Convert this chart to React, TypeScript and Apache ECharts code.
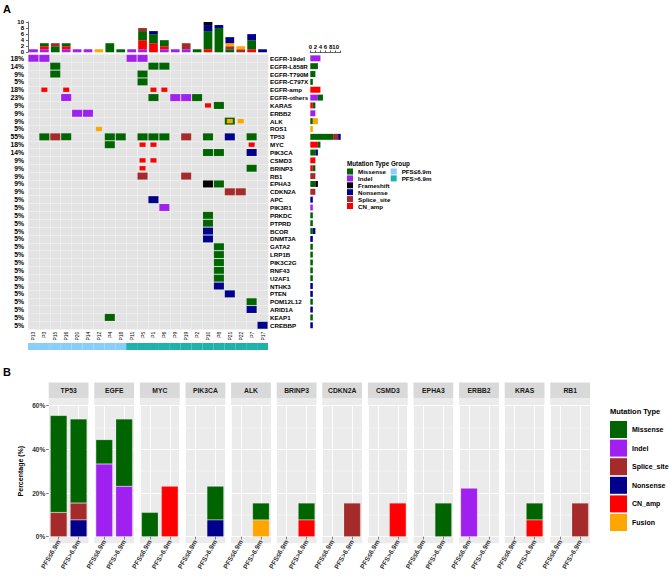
import React, { useEffect, useRef } from 'react';
import * as echarts from 'echarts';

const FONT = '"Liberation Sans", Arial, sans-serif';

// ---------- Panel A data ----------
const samples = ['P13', 'P3', 'P15', 'P16', 'P20', 'P14', 'P12', 'P4', 'P18', 'P11', 'P5', 'P1', 'P6', 'P9', 'P19', 'P2', 'P10', 'P8', 'P21', 'P22', 'P7', 'P17'];
const sampleGroups = ['PFS≤6.9m', 'PFS≤6.9m', 'PFS≤6.9m', 'PFS≤6.9m', 'PFS≤6.9m', 'PFS≤6.9m', 'PFS≤6.9m', 'PFS≤6.9m', 'PFS≤6.9m',
  'PFS>6.9m', 'PFS>6.9m', 'PFS>6.9m', 'PFS>6.9m', 'PFS>6.9m', 'PFS>6.9m', 'PFS>6.9m', 'PFS>6.9m', 'PFS>6.9m', 'PFS>6.9m', 'PFS>6.9m', 'PFS>6.9m', 'PFS>6.9m'];
const groupNames = ['PFS≤6.9m', 'PFS>6.9m'];
const groupColors = ['#87cefa', '#20b2aa'];

const genes = ['EGFR-19del', 'EGFR-L858R', 'EGFR-T790M', 'EGFR-C797X', 'EGFR-amp', 'EGFR-others', 'KARAS', 'ERBB2', 'ALK', 'ROS1', 'TP53', 'MYC', 'PIK3CA', 'CSMD3', 'BRINP3', 'RB1', 'EPHA3', 'CDKN2A', 'APC', 'PIK3R1', 'PRKDC', 'PTPRD', 'BCOR', 'DNMT3A', 'GATA2', 'LRP1B', 'PIK3C2G', 'RNF43', 'U2AF1', 'NTHK3', 'PTEN', 'POM12L12', 'ARID1A', 'KEAP1', 'CREBBP'];
const genePct = ['18%', '14%', '9%', '5%', '18%', '23%', '9%', '9%', '9%', '5%', '55%', '18%', '14%', '9%', '9%', '9%', '9%', '9%', '5%', '5%', '5%', '5%', '5%', '5%', '5%', '5%', '5%', '5%', '5%', '5%', '5%', '5%', '5%', '5%', '5%'];

const mutTypes = ['Missense', 'Indel', 'Frameshift', 'Nonsense', 'Splice_site', 'CN_amp', 'Fusion'];
const mutColors: Record<string, string> = {
  Missense: '#006400', Indel: '#a020f0', Frameshift: '#000000', Nonsense: '#00008b',
  Splice_site: '#a52a2a', CN_amp: '#ff0000', Fusion: '#ffa500',
};

// oncoprint cells: [sample, gene, type]
const cells: [string, string, string][] = [
  ['P13', 'EGFR-19del', 'Indel'], ['P3', 'EGFR-19del', 'Indel'], ['P11', 'EGFR-19del', 'Indel'], ['P5', 'EGFR-19del', 'Indel'],
  ['P15', 'EGFR-L858R', 'Missense'], ['P1', 'EGFR-L858R', 'Missense'], ['P6', 'EGFR-L858R', 'Missense'],
  ['P15', 'EGFR-T790M', 'Missense'], ['P5', 'EGFR-T790M', 'Missense'],
  ['P5', 'EGFR-C797X', 'Missense'],
  ['P3', 'EGFR-amp', 'CN_amp'], ['P16', 'EGFR-amp', 'CN_amp'], ['P1', 'EGFR-amp', 'CN_amp'], ['P6', 'EGFR-amp', 'CN_amp'],
  ['P16', 'EGFR-others', 'Indel'], ['P1', 'EGFR-others', 'Missense'], ['P9', 'EGFR-others', 'Indel'], ['P19', 'EGFR-others', 'Indel'], ['P2', 'EGFR-others', 'Missense'],
  ['P10', 'KARAS', 'CN_amp'], ['P8', 'KARAS', 'Missense'],
  ['P20', 'ERBB2', 'Indel'], ['P14', 'ERBB2', 'Indel'],
  ['P21', 'ALK', 'Missense'], ['P21', 'ALK', 'Fusion'], ['P22', 'ALK', 'Fusion'],
  ['P12', 'ROS1', 'Fusion'],
  ['P3', 'TP53', 'Missense'], ['P15', 'TP53', 'Splice_site'], ['P16', 'TP53', 'Missense'], ['P4', 'TP53', 'Missense'], ['P18', 'TP53', 'Missense'],
  ['P5', 'TP53', 'Missense'], ['P1', 'TP53', 'Missense'], ['P6', 'TP53', 'Missense'], ['P19', 'TP53', 'Splice_site'], ['P10', 'TP53', 'Missense'],
  ['P21', 'TP53', 'Nonsense'], ['P7', 'TP53', 'Missense'],
  ['P4', 'MYC', 'Missense'], ['P5', 'MYC', 'CN_amp'], ['P1', 'MYC', 'CN_amp'], ['P7', 'MYC', 'CN_amp'],
  ['P10', 'PIK3CA', 'Missense'], ['P8', 'PIK3CA', 'Missense'], ['P7', 'PIK3CA', 'Nonsense'],
  ['P5', 'CSMD3', 'CN_amp'], ['P1', 'CSMD3', 'CN_amp'],
  ['P5', 'BRINP3', 'CN_amp'], ['P7', 'BRINP3', 'Missense'],
  ['P5', 'RB1', 'Splice_site'], ['P19', 'RB1', 'Splice_site'],
  ['P10', 'EPHA3', 'Frameshift'], ['P8', 'EPHA3', 'Missense'],
  ['P21', 'CDKN2A', 'Splice_site'], ['P22', 'CDKN2A', 'Splice_site'],
  ['P1', 'APC', 'Nonsense'],
  ['P6', 'PIK3R1', 'Indel'],
  ['P10', 'PRKDC', 'Missense'],
  ['P10', 'PTPRD', 'Missense'],
  ['P10', 'BCOR', 'Nonsense'],
  ['P10', 'DNMT3A', 'Nonsense'],
  ['P8', 'GATA2', 'Missense'], ['P8', 'LRP1B', 'Missense'], ['P8', 'PIK3C2G', 'Missense'], ['P8', 'RNF43', 'Missense'], ['P8', 'U2AF1', 'Missense'],
  ['P8', 'NTHK3', 'Nonsense'],
  ['P21', 'PTEN', 'Nonsense'],
  ['P7', 'POM12L12', 'Missense'],
  ['P7', 'ARID1A', 'Nonsense'],
  ['P4', 'KEAP1', 'Missense'],
  ['P17', 'CREBBP', 'Nonsense'],
];

// top bar: mutation counts per sample
const topIndel = [1, 1, 0, 1, 1, 1, 0, 0, 0, 1, 1, 0, 1, 1, 1, 0, 0, 0, 0, 0, 0, 0];
const topCNamp = [0, 1, 0, 1, 0, 0, 0, 0, 0, 0, 3, 3, 1, 0, 0, 0, 1, 0, 0, 0, 1, 0];
const topMissense = [0, 1, 2, 1, 0, 0, 0, 3, 1, 0, 3, 3, 2, 0, 0, 1, 6, 8, 1, 0, 3, 0];
const topSplice = [0, 0, 1, 0, 0, 0, 0, 0, 0, 0, 1, 0, 0, 0, 2, 0, 0, 0, 1, 1, 0, 0];
const topFusion = [0, 0, 0, 0, 0, 0, 1, 0, 0, 0, 0, 0, 0, 0, 0, 0, 0, 0, 1, 1, 0, 0];
const topNonsense = [0, 0, 0, 0, 0, 0, 0, 0, 0, 0, 0, 1, 0, 0, 0, 0, 2, 1, 2, 0, 2, 1];
const topFrameshift = [0, 0, 0, 0, 0, 0, 0, 0, 0, 0, 0, 0, 0, 0, 0, 0, 1, 0, 0, 0, 0, 0];
const topTicks = [0, 2, 4, 6, 8, 10];

// side bar: mutation counts per gene
const sideIndel = [4, 0, 0, 0, 0, 3, 0, 2, 0, 0, 0, 0, 0, 0, 0, 0, 0, 0, 0, 1, 0, 0, 0, 0, 0, 0, 0, 0, 0, 0, 0, 0, 0, 0, 0];
const sideCNamp = [0, 0, 0, 0, 4, 0, 1, 0, 0, 0, 0, 3, 0, 2, 1, 0, 0, 0, 0, 0, 0, 0, 0, 0, 0, 0, 0, 0, 0, 0, 0, 0, 0, 0, 0];
const sideMissense = [0, 3, 2, 1, 0, 2, 1, 0, 1, 0, 9, 1, 2, 0, 1, 0, 2, 0, 0, 0, 1, 1, 1, 0, 1, 1, 1, 1, 1, 0, 0, 1, 0, 1, 0];
const sideSplice = [0, 0, 0, 0, 0, 0, 0, 0, 0, 0, 2, 0, 0, 0, 0, 2, 0, 2, 0, 0, 0, 0, 0, 0, 0, 0, 0, 0, 0, 0, 0, 0, 0, 0, 0];
const sideFusion = [0, 0, 0, 0, 0, 0, 0, 0, 2, 1, 0, 0, 0, 0, 0, 0, 0, 0, 0, 0, 0, 0, 0, 0, 0, 0, 0, 0, 0, 0, 0, 0, 0, 0, 0];
const sideNonsense = [0, 0, 0, 0, 0, 0, 0, 0, 0, 0, 1, 0, 1, 0, 0, 0, 0, 0, 1, 0, 0, 0, 1, 1, 0, 0, 0, 0, 0, 1, 1, 0, 1, 0, 1];
const sideFrameshift = [0, 0, 0, 0, 0, 0, 0, 0, 0, 0, 0, 0, 0, 0, 0, 0, 1, 0, 0, 0, 0, 0, 0, 0, 0, 0, 0, 0, 0, 0, 0, 0, 0, 0, 0];

// ---------- Panel B data (percent, [PFS<=6.9m, PFS>6.9m]) ----------
const bGenes = ['TP53', 'EGFE', 'MYC', 'PIK3CA', 'ALK', 'BRINP3', 'CDKN2A', 'CSMD3', 'EPHA3', 'ERBB2', 'KRAS', 'RB1'];
const bMissense = [[44.4, 38.5], [11.1, 30.8], [11.1, 0], [0, 15.4], [0, 7.7], [0, 7.7], [0, 0], [0, 0], [0, 15.4], [0, 0], [0, 7.7], [0, 0]];
const bIndel = [[0, 0], [33.3, 23.1], [0, 0], [0, 0], [0, 0], [0, 0], [0, 0], [0, 0], [0, 0], [22.2, 0], [0, 0], [0, 0]];
const bSplice = [[11.1, 7.7], [0, 0], [0, 0], [0, 0], [0, 0], [0, 0], [0, 15.4], [0, 0], [0, 0], [0, 0], [0, 0], [0, 15.4]];
const bNonsense = [[0, 7.7], [0, 0], [0, 0], [0, 7.7], [0, 0], [0, 0], [0, 0], [0, 0], [0, 0], [0, 0], [0, 0], [0, 0]];
const bCNamp = [[0, 0], [0, 0], [0, 23.1], [0, 0], [0, 0], [0, 7.7], [0, 0], [0, 15.4], [0, 0], [0, 0], [0, 7.7], [0, 0]];
const bFusion = [[0, 0], [0, 0], [0, 0], [0, 0], [0, 7.7], [0, 0], [0, 0], [0, 0], [0, 0], [0, 0], [0, 0], [0, 0]];
const bTicks = [0, 20, 40, 60];
const bLegend = ['Missense', 'Indel', 'Splice_site', 'Nonsense', 'CN_amp', 'Fusion'];

// ---------- layout ----------
const A_LEFT = 28, A_RIGHT = 268;
const TOP_BAR_TOP = 22, TOP_BAR_BOTTOM = 52.3;
const ONCO_TOP = 54.4, ONCO_BOTTOM = 329.2;
const SIDE_LEFT = 310.3, SIDE_RIGHT = 340.7;
const GROUP_TOP = 343, GROUP_H = 7;
const B_LEFT0 = 48.7, B_PITCH = 45.6, B_W = 39.8;
const B_PLOT_TOP = 405.6, B_PLOT_BOTTOM = 536.7, B_BG_TOP = 399, B_BG_BOTTOM = 543.3;
const STRIP_TOP = 382.5;

const nz = (v: number) => (v ? v : null);

function buildOption(): any {
  const stackA = ['Indel', 'CN_amp', 'Missense', 'Splice_site', 'Fusion', 'Nonsense', 'Frameshift'];
  const topCounts: Record<string, number[]> = {
    Indel: topIndel, CN_amp: topCNamp, Missense: topMissense, Splice_site: topSplice,
    Fusion: topFusion, Nonsense: topNonsense, Frameshift: topFrameshift,
  };
  const sideCounts: Record<string, number[]> = {
    Indel: sideIndel, CN_amp: sideCNamp, Missense: sideMissense, Splice_site: sideSplice,
    Fusion: sideFusion, Nonsense: sideNonsense, Frameshift: sideFrameshift,
  };
  const stackB = ['Fusion', 'CN_amp', 'Nonsense', 'Splice_site', 'Indel', 'Missense'];
  const bVals: Record<string, number[][]> = {
    Missense: bMissense, Indel: bIndel, Splice_site: bSplice, Nonsense: bNonsense, CN_amp: bCNamp, Fusion: bFusion,
  };

  const isSmall = (t: string) => t === 'CN_amp' || t === 'Fusion';
  const cellData = cells
    .slice()
    .sort((a, b) => Number(isSmall(a[2])) - Number(isSmall(b[2])))
    .map((c) => [samples.indexOf(c[0]), genes.indexOf(c[1]), mutTypes.indexOf(c[2])]);

  const grid: any[] = [
    { left: A_LEFT, top: TOP_BAR_TOP, width: A_RIGHT - A_LEFT, height: TOP_BAR_BOTTOM - TOP_BAR_TOP },
    { left: A_LEFT, top: ONCO_TOP, width: A_RIGHT - A_LEFT, height: ONCO_BOTTOM - ONCO_TOP, show: true, backgroundColor: '#e3e3e3', borderWidth: 0 },
    { left: SIDE_LEFT, top: ONCO_TOP, width: SIDE_RIGHT - SIDE_LEFT, height: ONCO_BOTTOM - ONCO_TOP },
    { left: A_LEFT, top: GROUP_TOP, width: A_RIGHT - A_LEFT, height: GROUP_H },
  ];
  bGenes.forEach((_, i) => {
    grid.push({ left: B_LEFT0 + i * B_PITCH, top: B_PLOT_TOP, width: B_W, height: B_PLOT_BOTTOM - B_PLOT_TOP });
  });

  const axisText = { color: '#000', fontFamily: FONT, fontWeight: 'bold' };
  const xAxis: any[] = [
    { type: 'category', gridIndex: 0, data: samples, show: false },
    {
      type: 'category', gridIndex: 1, data: samples, position: 'bottom',
      axisLine: { show: false, onZero: false }, axisTick: { show: false },
      axisLabel: { rotate: 90, fontSize: 5, margin: 2.5, interval: 0, color: '#000', fontFamily: FONT },
      splitLine: { show: true, interval: 0, lineStyle: { color: '#f1f1f1', width: 0.6 } },
    },
    {
      type: 'value', gridIndex: 2, position: 'top', offset: 2, min: 0, max: 12, interval: 2,
      axisLine: { show: true, onZero: false, lineStyle: { color: '#000', width: 0.6 } },
      axisTick: { show: true, length: 2, lineStyle: { color: '#000', width: 0.6 } },
      axisLabel: { ...axisText, fontSize: 6, margin: 2, formatter: (v: number) => (topTicks.includes(v) ? String(v) : '') },
      splitLine: { show: false },
    },
    { type: 'category', gridIndex: 3, data: samples, show: false },
  ];
  const yAxis: any[] = [
    {
      type: 'value', gridIndex: 0, min: 0, max: 10, interval: 2,
      axisLine: { show: true, onZero: false, lineStyle: { color: '#000', width: 0.6 } },
      axisTick: { show: true, length: 2, lineStyle: { color: '#000', width: 0.6 } },
      axisLabel: { ...axisText, fontSize: 6, margin: 4 },
      splitLine: { show: false },
    },
    {
      type: 'category', gridIndex: 1, data: genes, inverse: true, position: 'left',
      axisLine: { show: false, onZero: false }, axisTick: { show: false },
      axisLabel: { ...axisText, fontSize: 6.8, margin: 4, interval: 0, formatter: (_v: string, i: number) => genePct[i] },
      splitLine: { show: true, interval: 0, lineStyle: { color: '#f1f1f1', width: 0.6 } },
    },
    {
      type: 'category', gridIndex: 1, data: genes, inverse: true, position: 'right',
      axisLine: { show: false, onZero: false }, axisTick: { show: false },
      axisLabel: { ...axisText, fontSize: 6.2, margin: 2, interval: 0 },
      splitLine: { show: false },
    },
    { type: 'category', gridIndex: 2, data: genes, inverse: true, show: false, axisLine: { onZero: false } },
    { type: 'value', gridIndex: 3, min: 0, max: 1, show: false },
  ];

  bGenes.forEach((_, i) => {
    xAxis.push({
      type: 'category', gridIndex: 4 + i, data: groupNames, position: 'bottom',
      axisLine: { show: false, onZero: false },
      axisTick: { show: true, alignWithLabel: true, length: 2.75, lineStyle: { color: '#333', width: 0.6 } },
      axisLabel: { rotate: 60, fontSize: 6.8, margin: 3.5, interval: 0, color: '#333', fontWeight: 'bold', fontFamily: FONT },
      splitLine: { show: false },
    });
    xAxis.push({
      type: 'value', gridIndex: 4 + i, min: -0.5, max: 1.5, splitNumber: 2, position: 'top',
      axisLine: { show: false, onZero: false }, axisTick: { show: false },
      axisLabel: { show: false },
      splitLine: { show: true, lineStyle: { color: '#ffffff', width: 0.9 } },
    });
    yAxis.push({
      type: 'value', gridIndex: 4 + i, min: 0, max: 60, interval: 20, position: 'left',
      axisLine: { show: false, onZero: false },
      axisTick: { show: i === 0, length: 2.75, lineStyle: { color: '#333', width: 0.6 } },
      axisLabel: { show: i === 0, fontSize: 6.5, fontWeight: 'bold', color: '#333', margin: 3.5, fontFamily: FONT, formatter: (v: number) => (bTicks.includes(v) ? v + '%' : '') },
      splitLine: { show: true, lineStyle: { color: '#ffffff', width: 0.9 } },
      minorTick: { show: false, splitNumber: 2 },
      minorSplitLine: { show: true, lineStyle: { color: '#ffffff', width: 0.45 } },
    });
  });

  const series: any[] = [];
  stackA.forEach((t) => {
    series.push({
      type: 'bar', name: t, xAxisIndex: 0, yAxisIndex: 0, stack: 'top', barWidth: '80%',
      data: topCounts[t].map(nz), itemStyle: { color: mutColors[t] },
    });
  });
  series.push({
    type: 'custom', name: 'oncoprint', xAxisIndex: 1, yAxisIndex: 1,
    encode: { x: 0, y: 1 },
    data: cellData,
    renderItem: (_params: any, api: any) => {
      const xi = api.value(0), yi = api.value(1), ti = api.value(2);
      const c = api.coord([xi, yi]);
      const s = api.size([1, 1]);
      const t = mutTypes[ti];
      const small = isSmall(t);
      const w = small ? s[0] * 0.55 : s[0] - 0.8;
      const h = small ? s[1] * 0.55 : s[1] - 0.8;
      return {
        type: 'rect',
        shape: { x: c[0] - w / 2, y: c[1] - h / 2, width: w, height: h },
        style: { fill: mutColors[t], stroke: small ? 'none' : 'rgba(255,255,255,0.18)', lineWidth: 0.5 },
      };
    },
  });
  stackA.forEach((t) => {
    series.push({
      type: 'bar', name: t, xAxisIndex: 2, yAxisIndex: 3, stack: 'side', barWidth: '76%',
      data: sideCounts[t].map(nz), itemStyle: { color: mutColors[t] },
    });
  });
  groupNames.forEach((g, gi) => {
    series.push({
      type: 'bar', name: g, xAxisIndex: 3, yAxisIndex: 4, stack: 'grp', barWidth: '100%',
      data: sampleGroups.map((s) => (s === g ? 1 : null)), itemStyle: { color: groupColors[gi] },
    });
  });
  bGenes.forEach((_, i) => {
    stackB.forEach((t) => {
      series.push({
        type: 'bar', name: t, xAxisIndex: 4 + 2 * i, yAxisIndex: 5 + i, stack: 'b' + i, barWidth: '84%',
        data: bVals[t][i].map(nz),
        itemStyle: { color: mutColors[t], borderColor: 'rgba(255,255,255,0.5)', borderWidth: 0.4 },
      });
    });
  });

  const yMid = (B_BG_TOP + B_BG_BOTTOM) / 2;
  const graphicEls: any[] = [
    { type: 'text', x: 3, y: 3, style: { text: 'A', fontSize: 11, fontWeight: 'bold', fontFamily: FONT, fill: '#000' } },
    { type: 'text', x: 3, y: 366, style: { text: 'B', fontSize: 11, fontWeight: 'bold', fontFamily: FONT, fill: '#000' } },
    { type: 'text', x: 347, y: 160, style: { text: 'Mutation Type Group', fontSize: 6.3, fontWeight: 'bold', fontFamily: FONT, fill: '#000' } },
    { type: 'text', x: 610, y: 407, style: { text: 'Mutation Type', fontSize: 7.5, fontWeight: 'bold', fontFamily: FONT, fill: '#000' } },
    {
      type: 'text', x: 20, y: yMid, rotation: Math.PI / 2,
      style: { text: 'Percentage (%)', fontSize: 7, fontWeight: 'bold', fontFamily: FONT, fill: '#000', textAlign: 'center', textVerticalAlign: 'middle' },
    },
  ];
  bGenes.forEach((g, i) => {
    const x = B_LEFT0 + i * B_PITCH;
    graphicEls.push({ type: 'rect', z: -1, shape: { x, y: B_BG_TOP, width: B_W, height: B_BG_BOTTOM - B_BG_TOP }, style: { fill: '#ebebeb' } });
    graphicEls.push({ type: 'rect', z: -1, shape: { x, y: STRIP_TOP, width: B_W, height: B_BG_TOP - STRIP_TOP - 0.5 }, style: { fill: '#d9d9d9' } });
    graphicEls.push({
      type: 'text', x: x + B_W / 2, y: (STRIP_TOP + B_BG_TOP) / 2,
      style: { text: g, fontSize: 6.8, fontWeight: 'bold', fontFamily: FONT, fill: '#1a1a1a', textAlign: 'center', textVerticalAlign: 'middle' },
    });
  });

  const legendText = { fontSize: 6.2, fontWeight: 'bold', color: '#000', fontFamily: FONT, lineHeight: 6 };
  return {
    animation: false,
    grid,
    xAxis,
    yAxis,
    series,
    legend: [
      {
        orient: 'vertical', left: 347, top: 168.5, itemWidth: 6, itemHeight: 6, itemGap: 0.9, icon: 'rect',
        padding: 0, selectedMode: false, textStyle: legendText,
        data: ['Missense', 'Indel', 'Frameshift', 'Nonsense', 'Splice_site', 'CN_amp'],
      },
      {
        orient: 'vertical', left: 390.7, top: 168.5, itemWidth: 6, itemHeight: 6, itemGap: 0.9, icon: 'rect',
        padding: 0, selectedMode: false, textStyle: legendText,
        data: groupNames,
      },
      {
        orient: 'vertical', left: 610, top: 421, itemWidth: 17, itemHeight: 17, itemGap: 1.6, icon: 'rect',
        padding: 0, selectedMode: false,
        textStyle: { fontSize: 7, fontWeight: 'bold', color: '#000', fontFamily: FONT },
        data: bLegend,
      },
    ],
    graphic: { elements: graphicEls },
  };
}

export default function App() {
  const ref = useRef<HTMLDivElement>(null);
  useEffect(() => {
    document.body.style.margin = '0';
    const chart = echarts.init(ref.current as HTMLDivElement, null, { renderer: 'svg' });
    chart.setOption(buildOption());
    return () => chart.dispose();
  }, []);
  return <div ref={ref} style={{ position: 'absolute', left: 0, top: 0, width: 669, height: 584, background: '#fff' }} />;
}
